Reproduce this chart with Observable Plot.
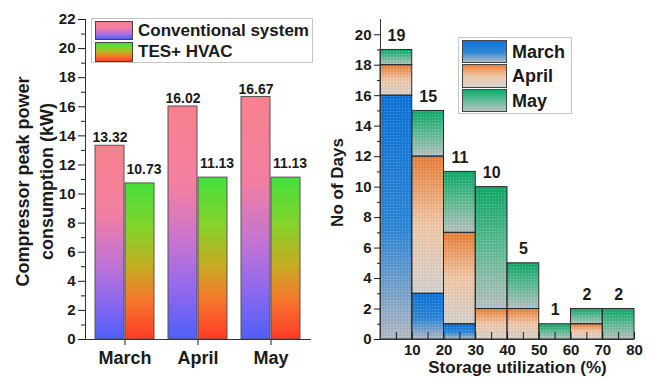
<!DOCTYPE html>
<html><head><meta charset="utf-8">
<script src="https://cdn.jsdelivr.net/npm/d3@7"></script>
<script src="https://cdn.jsdelivr.net/npm/@observablehq/plot@0.6"></script>
<style>
html,body{margin:0;padding:0;background:#fff;}
#wrap{position:relative;width:651px;height:381px;overflow:hidden;font-family:"Liberation Sans",Arial,sans-serif;font-weight:bold;color:#1a1a1a;}
#row{display:flex;position:absolute;left:0;top:0;}
.lg{position:absolute;border:1px solid #c4c4c4;background:#fff;box-sizing:border-box;}
.sw{position:absolute;border:1px solid #444;box-sizing:border-box;}
.lt{position:absolute;white-space:nowrap;line-height:1;}
</style></head><body>
<svg width="0" height="0" style="position:absolute">
  <defs>
    <linearGradient id="gConv" x1="0" y1="0" x2="0" y2="1">
      <stop offset="0" stop-color="#f7818d"/><stop offset="0.35" stop-color="#f27fa2"/>
      <stop offset="0.6" stop-color="#c374d2"/><stop offset="0.8" stop-color="#8e68ee"/>
      <stop offset="1" stop-color="#4f5ff8"/>
    </linearGradient>
    <linearGradient id="gTes" x1="0" y1="0" x2="0" y2="1">
      <stop offset="0" stop-color="#45e03c"/><stop offset="0.3" stop-color="#86d22a"/>
      <stop offset="0.55" stop-color="#c8aa22"/><stop offset="0.75" stop-color="#f5782c"/>
      <stop offset="1" stop-color="#ff3b28"/>
    </linearGradient>
    <linearGradient id="gMar" x1="0" y1="0" x2="0" y2="1">
      <stop offset="0" stop-color="#0f74d8"/><stop offset="0.55" stop-color="#3088d8"/>
      <stop offset="1" stop-color="#b3bac4"/>
    </linearGradient>
    <linearGradient id="gApr" x1="0" y1="0" x2="0" y2="1">
      <stop offset="0" stop-color="#e8803a"/><stop offset="0.5" stop-color="#f1c8a8"/>
      <stop offset="1" stop-color="#d6d2ce"/>
    </linearGradient>
    <linearGradient id="gMay" x1="0" y1="0" x2="0" y2="1">
      <stop offset="0" stop-color="#10aa6a"/><stop offset="0.5" stop-color="#60bc96"/>
      <stop offset="1" stop-color="#b8c2c0"/>
    </linearGradient>
    <pattern id="dots" width="3" height="3" patternUnits="userSpaceOnUse">
      <rect x="0" y="0" width="1" height="1" fill="rgba(255,255,255,0.22)"/>
      <rect x="1.5" y="1.5" width="1" height="1" fill="rgba(0,0,0,0.13)"/>
    </pattern>
  </defs>
</svg>
<div id="wrap">
  <div id="row"></div>
  <div class="lg" style="left:91px;top:18px;width:222px;height:45px;"></div>
  <div class="sw" style="left:95px;top:21px;width:38px;height:19px;background:linear-gradient(#f7818d,#f27fa2 35%,#c374d2 60%,#8e68ee 80%,#4f5ff8);"></div>
  <div class="sw" style="left:95px;top:42px;width:38px;height:20px;background:linear-gradient(#45e03c,#86d22a 30%,#c8aa22 55%,#f5782c 75%,#ff3b28);"></div>
  <div class="lt" style="left:138px;top:22px;font-size:17px;">Conventional system</div>
  <div class="lt" style="left:138px;top:43px;font-size:17px;">TES+ HVAC</div>
  <div class="lg" style="left:458px;top:37px;width:114px;height:77px;"></div>
  <div class="sw" style="left:462px;top:40px;width:45px;height:23px;background:linear-gradient(#0f74d8,#3088d8 55%,#b3bac4);"></div>
  <div class="sw" style="left:462px;top:64px;width:45px;height:24px;background:linear-gradient(#e8803a,#f1c8a8 50%,#d6d2ce);"></div>
  <div class="sw" style="left:462px;top:89px;width:45px;height:23px;background:linear-gradient(#10aa6a,#60bc96 50%,#b8c2c0);"></div>
  <div class="lt" style="left:512px;top:43px;font-size:18px;">March</div>
  <div class="lt" style="left:512px;top:67px;font-size:18px;">April</div>
  <div class="lt" style="left:512px;top:92px;font-size:18px;">May</div>
</div>
<script>
// ---- Left chart data ----
const months = ["March", "April", "May"];
const conventional = [13.32, 16.02, 16.67];
const tesHvac = [10.73, 11.13, 11.13];
const leftYTicks = [0, 2, 4, 6, 8, 10, 12, 14, 16, 18, 20, 22];

// ---- Right chart data ----
const histMonths = ["March", "April", "May"];
const binEdges = [0, 10, 20, 30, 40, 50, 60, 70, 80];
const marchDays = [16, 3, 1, 0, 0, 0, 0, 0];
const aprilDays = [2, 9, 6, 2, 2, 0, 1, 0];
const mayDays = [1, 3, 4, 8, 3, 1, 1, 2];
const rightXTicks = [10, 20, 30, 40, 50, 60, 70, 80];
const rightYTicks = [0, 2, 4, 6, 8, 10, 12, 14, 16, 18, 20];

const FONT = '"Liberation Sans", Arial, sans-serif';
const style = {fontFamily: FONT, fontWeight: "bold", color: "#1a1a1a", background: "transparent", overflow: "visible"};

const left = Plot.plot({
  width: 330, height: 381,
  marginLeft: 85, marginRight: 19, marginTop: 19, marginBottom: 42,
  style,
  x: {domain: months, paddingInner: 0.189, paddingOuter: 0.122, label: null},
  y: {domain: [0, 22], label: null},
  marks: [
    Plot.barY(conventional, {x: (d, i) => months[i], y: d => d, insetRight: 30, fill: "url(#gConv)", stroke: "#555", strokeWidth: 1}),
    Plot.barY(tesHvac, {x: (d, i) => months[i], y: d => d, insetLeft: 30, fill: "url(#gTes)", stroke: "#555", strokeWidth: 1}),
    Plot.text(conventional, {x: (d, i) => months[i], y: d => d, text: d => d.toFixed(2), dx: -15, dy: -8, fontSize: 14, fill: "#1a1a1a"}),
    Plot.text(tesHvac, {x: (d, i) => months[i], y: d => d, text: d => d.toFixed(2), dx: 19, dy: -14, fontSize: 14, fill: "#1a1a1a"}),
    Plot.axisY({ticks: leftYTicks, tickSize: 7, tickPadding: 3, fontSize: 15, label: null}),
    Plot.axisY({ticks: d3.range(1, 22, 2), tickSize: 4, tickFormat: () => "", label: null}),
    Plot.axisX({tickSize: 6, tickPadding: 6, fontSize: 18, label: null}),
    Plot.frame({anchor: "left", stroke: "#333"}),
    Plot.ruleY([0], {stroke: "#333"}),
    Plot.text(["Compressor peak power\nconsumption (kW)"], {frameAnchor: "left", textAnchor: "middle", rotate: -90, dx: -52, dy: 2, fontSize: 18, lineHeight: 1.35, fill: "#1a1a1a"})
  ]
});

const histData = [];
[marchDays, aprilDays, mayDays].forEach((arr, j) => {
  arr.forEach((c, i) => histData.push({month: histMonths[j], x1: binEdges[i], x2: binEdges[i + 1], count: c}));
});
const totals = marchDays.map((_, i) => ({mid: (binEdges[i] + binEdges[i + 1]) / 2, total: marchDays[i] + aprilDays[i] + mayDays[i]}));

const right = Plot.plot({
  width: 321, height: 381,
  marginLeft: 50, marginRight: 17, marginTop: 19, marginBottom: 42,
  style,
  x: {domain: [0, 80], label: null},
  y: {domain: [0, 21], label: null},
  color: {domain: histMonths, range: ["url(#gMar)", "url(#gApr)", "url(#gMay)"]},
  marks: [
    Plot.rectY(histData, {x1: "x1", x2: "x2", y: "count", fill: "month", z: "month"}),
    Plot.rectY(histData, {x1: "x1", x2: "x2", y: "count", z: "month", fill: "url(#dots)", stroke: "#2a2a2a", strokeWidth: 1}),
    Plot.text(totals, {x: "mid", y: "total", text: d => String(d.total), dy: -14, fontSize: 16, fill: "#1a1a1a"}),
    Plot.axisY({ticks: rightYTicks, tickSize: 6, tickPadding: 3, fontSize: 15, label: null}),
    Plot.axisY({ticks: d3.range(1, 21, 2), tickSize: 3, tickFormat: () => "", label: null}),
    Plot.axisX({ticks: rightXTicks, tickSize: 0, tickPadding: 5, fontSize: 15, label: null}),
    Plot.axisX({ticks: d3.range(0, 81, 5), tickSize: -7, tickFormat: () => "", label: null}),
    Plot.ruleX([0], {stroke: "#333"}),
    Plot.ruleY([0], {stroke: "#333"}),
    Plot.text(["No of Days"], {frameAnchor: "left", textAnchor: "middle", rotate: -90, dx: -43, dy: 3, fontSize: 17, fill: "#1a1a1a"}),
    Plot.text(["Storage utilization (%)"], {frameAnchor: "bottom", dx: 10, dy: 33, fontSize: 17, fill: "#1a1a1a"})
  ]
});

const row = document.getElementById("row");
row.appendChild(left);
row.appendChild(right);
</script>
</body></html>
